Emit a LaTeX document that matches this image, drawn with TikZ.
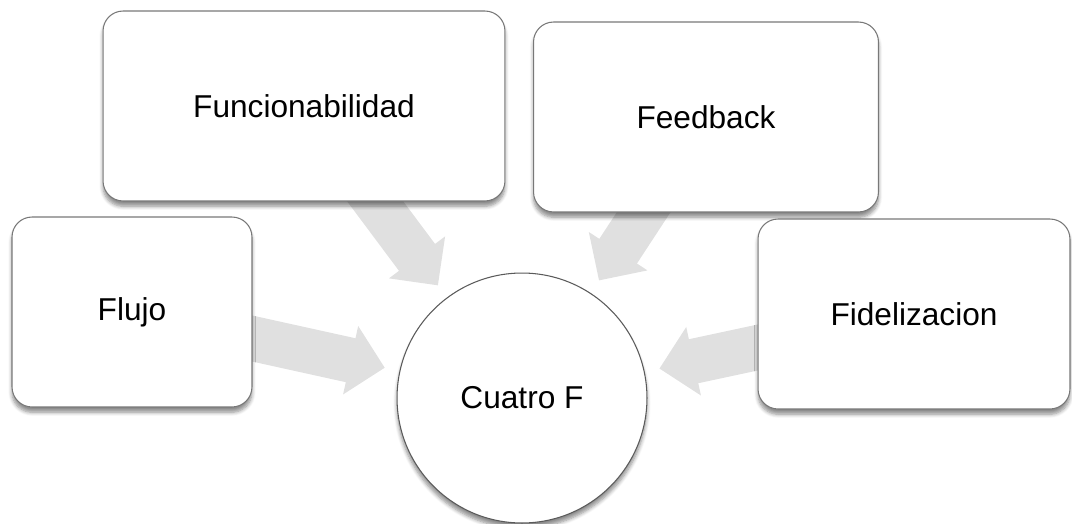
\documentclass[tikz,border=0pt]{standalone}
\usepackage{fontspec}
\setmainfont{Liberation Sans}
\usepackage{tikz}
\usetikzlibrary{arrows.meta,shadows.blur,backgrounds}
\definecolor{box_gray}{RGB}{120,120,120}
\definecolor{ring_gray}{RGB}{90,90,90}
\definecolor{arrow_gray}{RGB}{224,224,224}

\begin{document}
\begin{tikzpicture}[x=0.02cm,y=-0.02cm,font=\fontsize{18}{22}\selectfont]
    \tikzstyle{caja}=[draw=box_gray, line width=0.6pt, rounded corners=0.4cm, fill=white, text=black, minimum height=3.8cm,
      blur shadow={shadow xshift=0pt, shadow yshift=-3pt, shadow blur steps=6, shadow opacity=45}]
    \tikzstyle{centro}=[draw=ring_gray, line width=0.6pt, circle, minimum size=5cm, fill=white, text=black,
      blur shadow={shadow xshift=0pt, shadow yshift=-3pt, shadow blur steps=6, shadow opacity=45}]
    \tikzstyle{flecha}=[draw=arrow_gray, line width=0.9cm, -{Triangle[width=1.36cm,length=0.7cm]}, shorten >=0.3cm]

    \useasboundingbox (0,0) rectangle (1072,524);

    \node[caja, minimum width=8.04cm] (funcion)  at (304,106) {Funcionabilidad};
    \node[caja, minimum width=6.9cm]  (feedback) at (706,117) {Feedback};
    \node[caja, minimum width=4.8cm]  (flujo)    at (132,312) {Flujo};
    \node[caja, minimum width=6.24cm] (fideliz)  at (914,314) {Fidelizacion};
    \node[centro] (cuatro) at (522,398) {Cuatro F};

    \begin{pgfonlayer}{background}
    \path
     (funcion.center)  edge[flecha] (cuatro)
     (feedback.center) edge[flecha] (cuatro)
     (flujo.center)    edge[flecha] (cuatro)
     (fideliz.center)  edge[flecha] (cuatro)
     ;
    \end{pgfonlayer}
\end{tikzpicture}
\end{document}
